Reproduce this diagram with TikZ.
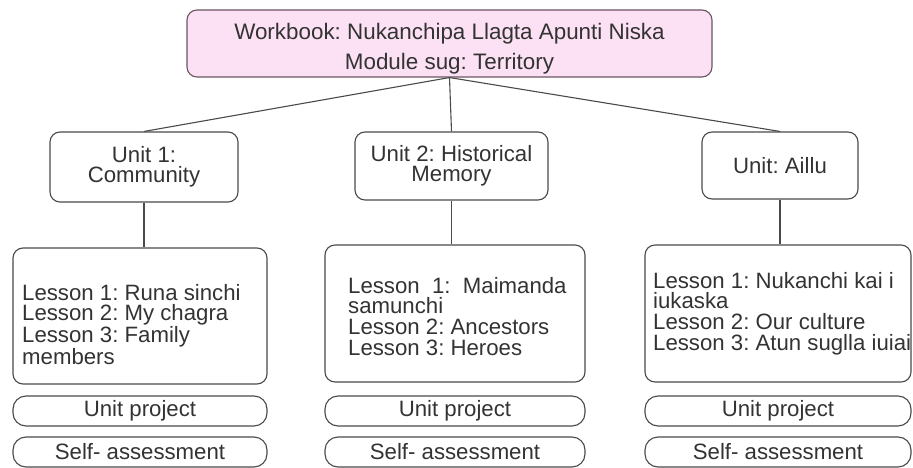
\documentclass[tikz,border=0pt]{standalone}
\usepackage{fontspec}
\setmainfont{Liberation Sans}
\definecolor{boxline}{HTML}{4A4A4A}
\definecolor{topline}{HTML}{6B5563}
\definecolor{pinkfill}{HTML}{FCE1F4}
\definecolor{txt}{HTML}{333333}
\begin{document}
\frenchspacing
\begin{tikzpicture}[x=1pt,y=-1pt,
  box/.style={draw=boxline, line width=1.1pt, rounded corners=10pt, inner sep=0pt, text=txt, align=center,
    font=\frenchspacing\fontsize{22.2pt}{20.5pt}\selectfont},
  topbox/.style={box, draw=topline, fill=pinkfill},
  toptext/.style={inner sep=0pt, text=txt, align=center, font=\frenchspacing\fontsize{22.4pt}{30pt}\selectfont},
  pill/.style={box, rounded corners=13pt},
  ltext/.style={anchor=north west, align=left, inner sep=0pt, text=txt, font=\frenchspacing\fontsize{22.2pt}{20.6pt}\selectfont},
  conn/.style={draw=boxline, line width=1.1pt}
]
\useasboundingbox (0,0) rectangle (913,468);
\fill[white] (0,0) rectangle (913,468);

\node[topbox, minimum width=525, minimum height=67] (top) at (449.5,43.5) {};
\node[toptext] (topt) at (449.5,48.5) {Workbook: Nukanchipa Llagta Apunti Niska\\Module sug: Territory};

\node[box, minimum width=188, minimum height=70] (u1) at (144,167) {Unit 1:\\Community};
\node[box, minimum width=193, minimum height=68] (u2) at (451.5,166) {Unit 2: Historical\\Memory};
\node[box, minimum width=156, minimum height=67] (u3) at (780,165.5) {Unit: Aillu};

\node[box, minimum width=254, minimum height=136] (l1) at (140,316) {};
\node[box, minimum width=260, minimum height=137] (l2) at (455,313.5) {};
\node[box, minimum width=266, minimum height=137] (l3) at (778,313.5) {};

\node[ltext] (l1t) at (22,284) {Lesson 1: Runa sinchi\\Lesson 2: My chagra\\Lesson 3: Family\\members};
\node[ltext] (l2t) at (348,277) {Lesson\ \ 1:\ \ Maimanda\\samunchi\\Lesson 2: Ancestors\\Lesson 3: Heroes};
\node[ltext] (l3t) at (653,272) {Lesson 1: Nukanchi kai i\\iukaska\\Lesson 2: Our culture\\Lesson 3: Atun suglla iuiai};

\node[pill, minimum width=254, minimum height=30] (p1) at (140,411) {Unit project};
\node[pill, minimum width=260, minimum height=30] (p2) at (455,411) {Unit project};
\node[pill, minimum width=266, minimum height=30] (p3) at (778,411) {Unit project};

\node[pill, minimum width=254, minimum height=30] (s1) at (140,452) {Self- assessment};
\node[pill, minimum width=260, minimum height=30] (s2) at (455,452) {Self- assessment};
\node[pill, minimum width=266, minimum height=30] (s3) at (778,452) {Self- assessment};

\draw[conn] (top.south) -- (u1.north);
\draw[conn] (top.south) -- (u2.north);
\draw[conn] (top.south) -- (u3.north);
\draw[conn] (u1.south) -- (u1.south |- l1.north);
\draw[conn] (u2.south) -- (u2.south |- l2.north);
\draw[conn] (u3.south) -- (u3.south |- l3.north);
\end{tikzpicture}
\end{document}
